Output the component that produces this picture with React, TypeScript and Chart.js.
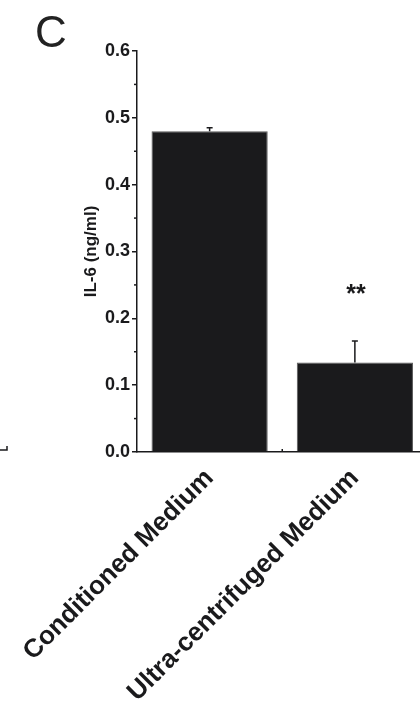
import React, { useEffect, useRef } from "react";
import { Chart, registerables } from "chart.js";

Chart.register(...registerables);

const categories = ["Conditioned Medium", "Ultra-centrifuged Medium"];
const il6Values = [0.48, 0.134];
const il6Errors = [0.005, 0.032];
const significance = ["", "**"];
const significanceLevel = [0, 0.24];
const yTicks = [0, 0.1, 0.2, 0.3, 0.4, 0.5, 0.6];

const INK = "#1a1a1c";
const FONT = "'Liberation Sans', Arial, sans-serif";

const extrasPlugin = {
  id: "extras",
  afterDatasetsDraw(chart: any) {
    const ctx = chart.ctx;
    const x = chart.scales.x;
    const y = chart.scales.y;
    const area = chart.chartArea;
    ctx.save();
    ctx.strokeStyle = INK;
    ctx.fillStyle = INK;
    ctx.lineWidth = 1.5;
    il6Values.forEach((v, i) => {
      const cx = x.getPixelForValue(i);
      const y0 = y.getPixelForValue(v);
      const y1 = y.getPixelForValue(v + il6Errors[i]);
      ctx.beginPath();
      ctx.moveTo(cx, y0);
      ctx.lineTo(cx, y1);
      ctx.moveTo(cx - 3, y1);
      ctx.lineTo(cx + 3, y1);
      ctx.stroke();
      if (significance[i]) {
        ctx.font = `bold 25px ${FONT}`;
        ctx.textAlign = "center";
        ctx.textBaseline = "middle";
        ctx.fillText(significance[i], cx + 1, y.getPixelForValue(significanceLevel[i]) + 4);
      }
    });
    for (let k = 0; k < yTicks.length - 1; k++) {
      const mv = (yTicks[k] + yTicks[k + 1]) / 2;
      const py = y.getPixelForValue(mv);
      ctx.beginPath();
      ctx.moveTo(area.left, py);
      ctx.lineTo(area.left - 3, py);
      ctx.stroke();
    }
    for (let i = 0; i < categories.length - 1; i++) {
      const px = (x.getPixelForValue(i) + x.getPixelForValue(i + 1)) / 2;
      ctx.beginPath();
      ctx.moveTo(px, area.bottom);
      ctx.lineTo(px, area.bottom - 3);
      ctx.stroke();
    }
    ctx.font = `44px ${FONT}`;
    ctx.textAlign = "left";
    ctx.textBaseline = "alphabetic";
    ctx.fillStyle = "#222";
    ctx.fillText("C", 35, 47);
    ctx.beginPath();
    ctx.moveTo(0, area.bottom - 2);
    ctx.lineTo(7, area.bottom - 2);
    ctx.lineTo(7, area.bottom - 6);
    ctx.stroke();
    ctx.restore();
  },
};

export default function App() {
  const ref = useRef<HTMLCanvasElement | null>(null);
  useEffect(() => {
    if (!ref.current) return;
    const chart = new Chart(ref.current, {
      type: "bar",
      data: {
        labels: categories,
        datasets: [
          {
            data: il6Values,
            backgroundColor: INK,
            borderColor: "#5a5a5a",
            borderWidth: 1,
            barPercentage: 0.8,
            categoryPercentage: 1,
          },
        ],
      },
      plugins: [extrasPlugin],
      options: {
        animation: false,
        responsive: false,
        maintainAspectRatio: false,
        layout: { padding: { left: 0, right: 12.5, top: 51, bottom: 0 } },
        plugins: {
          legend: { display: false },
          tooltip: { enabled: false },
          title: { display: false },
        },
        scales: {
          x: {
            offset: true,
            grid: { display: false, drawTicks: false },
            border: { display: true, color: INK, width: 1.5 },
            ticks: {
              color: INK,
              font: { family: FONT, size: 26, weight: "bold" },
              minRotation: 45,
              maxRotation: 45,
              padding: 11,
              autoSkip: false,
            },
            afterFit: (s: any) => {
              s.height = 712 - 452;
              s.paddingLeft = 0;
              s.paddingRight = 0;
            },
          },
          y: {
            min: 0,
            max: 0.6,
            afterBuildTicks: (s: any) => {
              s.ticks = yTicks.map((v) => ({ value: v }));
            },
            grid: {
              drawOnChartArea: false,
              drawTicks: true,
              tickLength: 5,
              color: INK,
              lineWidth: 1.5,
            },
            border: { display: true, color: INK, width: 1.5 },
            ticks: {
              color: INK,
              padding: 2,
              font: { family: FONT, size: 18, weight: "bold" },
              callback: (v: any) => Number(v).toFixed(1),
            },
            title: {
              display: true,
              text: "IL-6 (ng/ml)",
              color: INK,
              font: { family: FONT, size: 17, weight: "bold" },
              padding: { top: 81, bottom: 0 },
            },
            afterFit: (s: any) => {
              s.width = 137;
              s.paddingTop = 0;
              s.paddingBottom = 0;
            },
          },
        },
      },
    });
    return () => chart.destroy();
  }, []);
  return (
    <div
      style={{
        position: "absolute",
        left: 0,
        top: 0,
        width: 420,
        height: 712,
        overflow: "hidden",
        background: "#fff",
      }}
    >
      <canvas ref={ref} width={440} height={712} style={{ display: "block", width: 440, height: 712 }} />
    </div>
  );
}
